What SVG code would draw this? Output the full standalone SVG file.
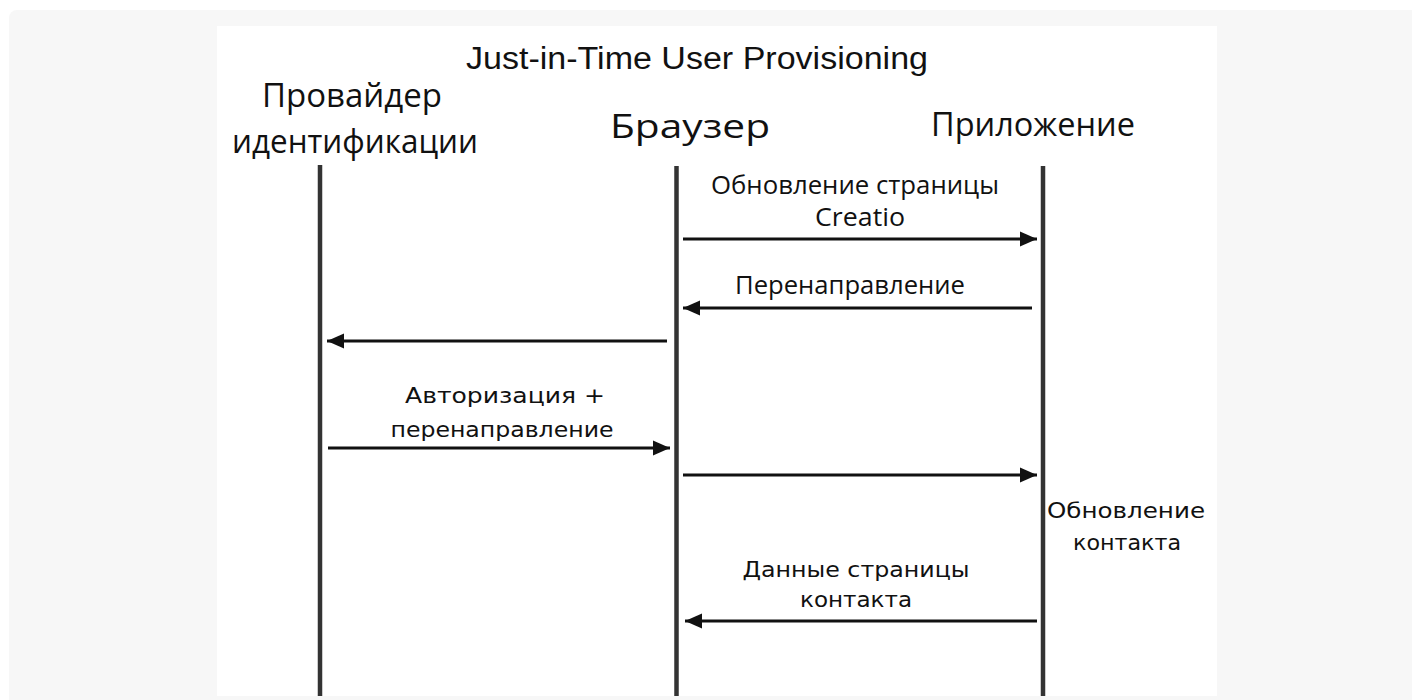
<svg xmlns="http://www.w3.org/2000/svg" width="1412" height="700" viewBox="0 0 1412 700">
<style>
.title{font-family:"Liberation Sans",Arial,sans-serif;font-size:31px;fill:#111}
.part{font-family:"Open Sans","Noto Sans",sans-serif;font-size:32px;fill:#111}
.seg{font-family:"Open Sans","Noto Sans",sans-serif;font-size:25px;fill:#111}
.ver{font-family:"DejaVu Sans","Noto Sans",sans-serif;font-size:21px;fill:#111}
.life{stroke:#333;stroke-width:4.5}
.msg{stroke:#111;stroke-width:3;fill:none;marker-end:url(#ah)}
</style>
<defs>
<marker id="ah" markerUnits="userSpaceOnUse" markerWidth="18" markerHeight="18" viewBox="0 0 18 18" refX="17" refY="9" orient="auto">
<path d="M0,1.5 L17,9 L0,16.5 Z" fill="#111"/>
</marker>
</defs>
<rect x="0" y="0" width="1412" height="700" fill="#ffffff"/>
<rect x="9" y="10" width="1412" height="710" rx="8" fill="#f7f7f7"/>
<rect x="217" y="26" width="1000" height="670" fill="#ffffff"/>
<text class="title" x="697" y="69" text-anchor="middle" textLength="462" lengthAdjust="spacingAndGlyphs">Just-in-Time User Provisioning</text>
<g id="idp">
<text class="part" x="352" y="107" text-anchor="middle" textLength="180" lengthAdjust="spacingAndGlyphs">Провайдер</text>
<text class="part" x="355" y="153" text-anchor="middle" textLength="246" lengthAdjust="spacingAndGlyphs">идентификации</text>
<line class="life" x1="320" y1="165" x2="320" y2="696"/>
</g>
<g id="browser">
<text class="part" x="690" y="138" text-anchor="middle" textLength="160" lengthAdjust="spacingAndGlyphs">Браузер</text>
<line class="life" x1="676.5" y1="166" x2="676.5" y2="696"/>
</g>
<g id="app">
<text class="part" x="1033" y="136" text-anchor="middle" textLength="204" lengthAdjust="spacingAndGlyphs">Приложение</text>
<line class="life" x1="1043" y1="166" x2="1043" y2="696"/>
</g>
<g id="connectors">
<line class="msg" x1="683" y1="239" x2="1037" y2="239"/>
<line class="msg" x1="1032" y1="308" x2="683" y2="308"/>
<line class="msg" x1="667" y1="341" x2="327" y2="341"/>
<line class="msg" x1="328" y1="448" x2="670" y2="448"/>
<line class="msg" x1="683" y1="475" x2="1037" y2="475"/>
<line class="msg" x1="1037" y1="621" x2="685" y2="621"/>
</g>
<g id="labels">
<text class="seg" x="855" y="194" text-anchor="middle" textLength="288" lengthAdjust="spacingAndGlyphs">Обновление страницы</text>
<text class="seg" x="860" y="226" text-anchor="middle" textLength="90" lengthAdjust="spacingAndGlyphs">Creatio</text>
<text class="seg" x="850" y="294" text-anchor="middle" textLength="230" lengthAdjust="spacingAndGlyphs">Перенаправление</text>
<text class="ver" x="505" y="403" text-anchor="middle" textLength="200" lengthAdjust="spacingAndGlyphs">Авторизация +</text>
<text class="ver" x="502" y="437" text-anchor="middle" textLength="223" lengthAdjust="spacingAndGlyphs">перенаправление</text>
<text class="ver" x="1126" y="518" text-anchor="middle" textLength="158" lengthAdjust="spacingAndGlyphs">Обновление</text>
<text class="ver" x="1127" y="550" text-anchor="middle" textLength="108" lengthAdjust="spacingAndGlyphs">контакта</text>
<text class="ver" x="856" y="577" text-anchor="middle" textLength="227" lengthAdjust="spacingAndGlyphs">Данные страницы</text>
<text class="ver" x="856" y="607" text-anchor="middle" textLength="112" lengthAdjust="spacingAndGlyphs">контакта</text>
</g>
</svg>
